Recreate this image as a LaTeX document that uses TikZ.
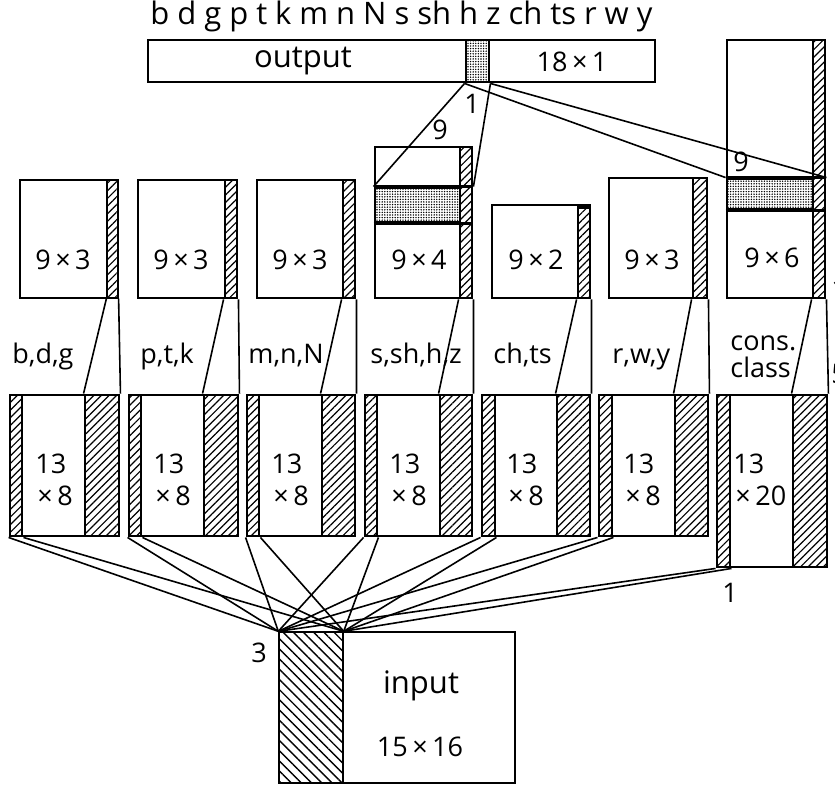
\documentclass[tikz,border=0pt]{standalone}
\usepackage{fontspec}
\setmainfont{Open Sans}
\usepackage{tikz}
\usetikzlibrary{patterns,patterns.meta,fit}

\begin{document}
\begin{tikzpicture}[x=0.5pt, y=-0.5pt,
        box/.style={draw, line width=1.45pt, inner sep=0pt},
        hatch/.style={box, pattern={Lines[angle=45,distance=2.7pt,line width=0.6pt]}},
        backhatch/.style={box, pattern={Lines[angle=-45,distance=3.6pt,line width=0.7pt]}},
        stipple/.style={box, pattern={Dots[distance=1.3pt,radius=0.4pt]}},
        wire/.style={line width=0.8pt},
        lbl/.style={font=\fontsize{13.5}{16}\selectfont, inner sep=0pt},
        biglbl/.style={font=\fontsize{15.5}{18}\selectfont, inner sep=0pt}]
        \useasboundingbox (0,0) rectangle (835,787);

        \node[box, fit={(148,40) (655,82)}] (out) {};
        \node[stipple, fit={(466,40) (489,82)}] (oc) {};
        \node[biglbl] at (303,61) {output}; \node[lbl] at (572,62) {18\,×\,1};
        \node[biglbl, anchor=base west] at (150,25) {\makebox[251pt][s]{b d g p t k m n N s sh h z ch ts r w y}};

        \node[box, fit={(20,180) (118,298)}] (u1) {}; \node[hatch, fit={(107,180) (118,298)}] (h1) {};
        \node[lbl] at (63,260) {9\,×\,3};
        \node[box, fit={(138,180) (237,298)}] (u2) {}; \node[hatch, fit={(225,180) (237,298)}] (h2) {};
        \node[lbl] at (181,260) {9\,×\,3};
        \node[box, fit={(257,180) (355,298)}] (u3) {}; \node[hatch, fit={(343,180) (355,298)}] (h3) {};
        \node[lbl] at (300,260) {9\,×\,3};
        \node[box, fit={(375,147) (472,298)}] (u4) {}; \node[stipple, fit={(375,188) (460,222)}] (b4) {};
        \node[hatch, fit={(460,147) (472,298)}] (h4) {}; \coordinate (b4r) at (b4.north west -| u4.east);
        \draw[box] (b4.north west) -- (b4r) (b4.south west) -- (b4.south west -| u4.east);
        \node[lbl] at (419,260) {9\,×\,4};
        \node[box, fit={(492,205) (590,298)}] (u5) {}; \node[hatch, fit={(578,205) (590,298)}] (h5) {};
        \fill (h5.north west) rectangle ([yshift=-2.5pt]h5.north east);
        \node[lbl] at (536,260) {9\,×\,2};
        \node[box, fit={(609,178) (707,298)}] (u6) {}; \node[hatch, fit={(693,178) (707,298)}] (h6) {};
        \node[lbl] at (652,260) {9\,×\,3};
        \node[box, fit={(727,40) (825,298)}] (u7) {}; \node[stipple, fit={(727,179) (813,209)}] (b7) {};
        \node[hatch, fit={(813,40) (825,298)}] (h7) {}; \coordinate (b7r) at (b7.north west -| u7.east);
        \draw[box] (b7.north west) -- (b7r) (b7.south west) -- (b7.south west -| u7.east);
        \node[lbl] at (772,258) {9\,×\,6};

        \draw[wire] (oc.south west) -- (b4.north west) (oc.south east) -- (b4r);
        \draw[wire] (oc.south west) -- (b7.north west) (oc.south east) -- (b7r);
        \node[lbl] at (440,130) {9}; \node[lbl] at (472,104) {1}; \node[lbl] at (741,162) {9};

        \node[lbl, anchor=base west] at (12,363) {b,d,g}; \node[lbl, anchor=base west] at (140,363) {p,t,k};
        \node[lbl, anchor=base west] at (248,363) {m,n,N}; \node[lbl, anchor=base west] at (370,363) {s,sh,h,z};
        \node[lbl, anchor=base west] at (493,363) {ch,ts}; \node[lbl, anchor=base west] at (612,363) {r,w,y};
        \node[lbl, anchor=base west] at (730,350) {cons.}; \node[lbl, anchor=base west] at (730,377) {class};

        \node[box, fit={(10,395) (119,536)}] (l1) {}; \node[hatch, fit={(10,395) (22,536)}] (a1) {};
        \node[hatch, fit={(85,395) (119,536)}] (r1) {};
        \node[box, fit={(129,395) (238,536)}] (l2) {}; \node[hatch, fit={(129,395) (141,536)}] (a2) {};
        \node[hatch, fit={(204,395) (238,536)}] (r2) {};
        \node[box, fit={(247,395) (355,536)}] (l3) {}; \node[hatch, fit={(247,395) (259,536)}] (a3) {};
        \node[hatch, fit={(322,395) (355,536)}] (r3) {};
        \node[box, fit={(365,395) (472,536)}] (l4) {}; \node[hatch, fit={(365,395) (377,536)}] (a4) {};
        \node[hatch, fit={(440,395) (472,536)}] (r4) {};
        \node[box, fit={(482,395) (590,536)}] (l5) {}; \node[hatch, fit={(482,395) (495,536)}] (a5) {};
        \node[hatch, fit={(557,395) (590,536)}] (r5) {};
        \node[box, fit={(599,395) (708,536)}] (l6) {}; \node[hatch, fit={(599,395) (612,536)}] (a6) {};
        \node[hatch, fit={(675,395) (708,536)}] (r6) {};
        \node[box, fit={(717,395) (827,567)}] (l7) {}; \node[hatch, fit={(717,395) (730,567)}] (a7) {};
        \node[hatch, fit={(793,395) (827,567)}] (r7) {};
        \node[lbl, anchor=base west] at (35,473) {13}; \node[lbl, anchor=base west] at (37,505) {×\,8};
        \node[lbl, anchor=base west] at (153,473) {13}; \node[lbl, anchor=base west] at (155,505) {×\,8};
        \node[lbl, anchor=base west] at (271,473) {13}; \node[lbl, anchor=base west] at (273,505) {×\,8};
        \node[lbl, anchor=base west] at (389,473) {13}; \node[lbl, anchor=base west] at (391,505) {×\,8};
        \node[lbl, anchor=base west] at (506,473) {13}; \node[lbl, anchor=base west] at (508,505) {×\,8};
        \node[lbl, anchor=base west] at (623,473) {13}; \node[lbl, anchor=base west] at (625,505) {×\,8};
        \node[lbl, anchor=base west] at (733,473) {13}; \node[lbl, anchor=base west] at (735,505) {×\,20};
        \node[lbl] at (730,593) {1};

        \draw[wire] (h1.south west) -- (r1.north west) (h1.south east) -- (r1.north east);
        \draw[wire] (h2.south west) -- (r2.north west) (h2.south east) -- (r2.north east);
        \draw[wire] (h3.south west) -- (r3.north west) (h3.south east) -- (r3.north east);
        \draw[wire] (h4.south west) -- (r4.north west) (h4.south east) -- (r4.north east);
        \draw[wire] (h5.south west) -- (r5.north west) (h5.south east) -- (r5.north east);
        \draw[wire] (h6.south west) -- (r6.north west) (h6.south east) -- (r6.north east);
        \draw[wire] (h7.south west) -- (r7.north west) (h7.south east) -- (r7.north east);

        \node[box, fit={(279,632) (515,783)}] (in) {}; \node[backhatch, fit={(279,632) (343,783)}] (ih) {};
        \node[biglbl] at (421,686) {input}; \node[lbl] at (420,747) {15\,×\,16};
        \node[lbl] at (259,653) {3};
        \draw[wire] (a1.south west) -- (ih.north west) (a1.south east) -- (ih.north east);
        \draw[wire] (a2.south west) -- (ih.north west) (a2.south east) -- (ih.north east);
        \draw[wire] (a3.south west) -- (ih.north west) (a3.south east) -- (ih.north east);
        \draw[wire] (a4.south west) -- (ih.north west) (a4.south east) -- (ih.north east);
        \draw[wire] (a5.south west) -- (ih.north west) (a5.south east) -- (ih.north east);
        \draw[wire] (a6.south west) -- (ih.north west) (a6.south east) -- (ih.north east);
        \draw[wire] (a7.south west) -- (ih.north west) (a7.south east) -- (ih.north east);

        \node[lbl, anchor=base west] at (831,298) {1}; \node[lbl, anchor=base west] at (831,383) {5};
    \end{tikzpicture}
\end{document}
